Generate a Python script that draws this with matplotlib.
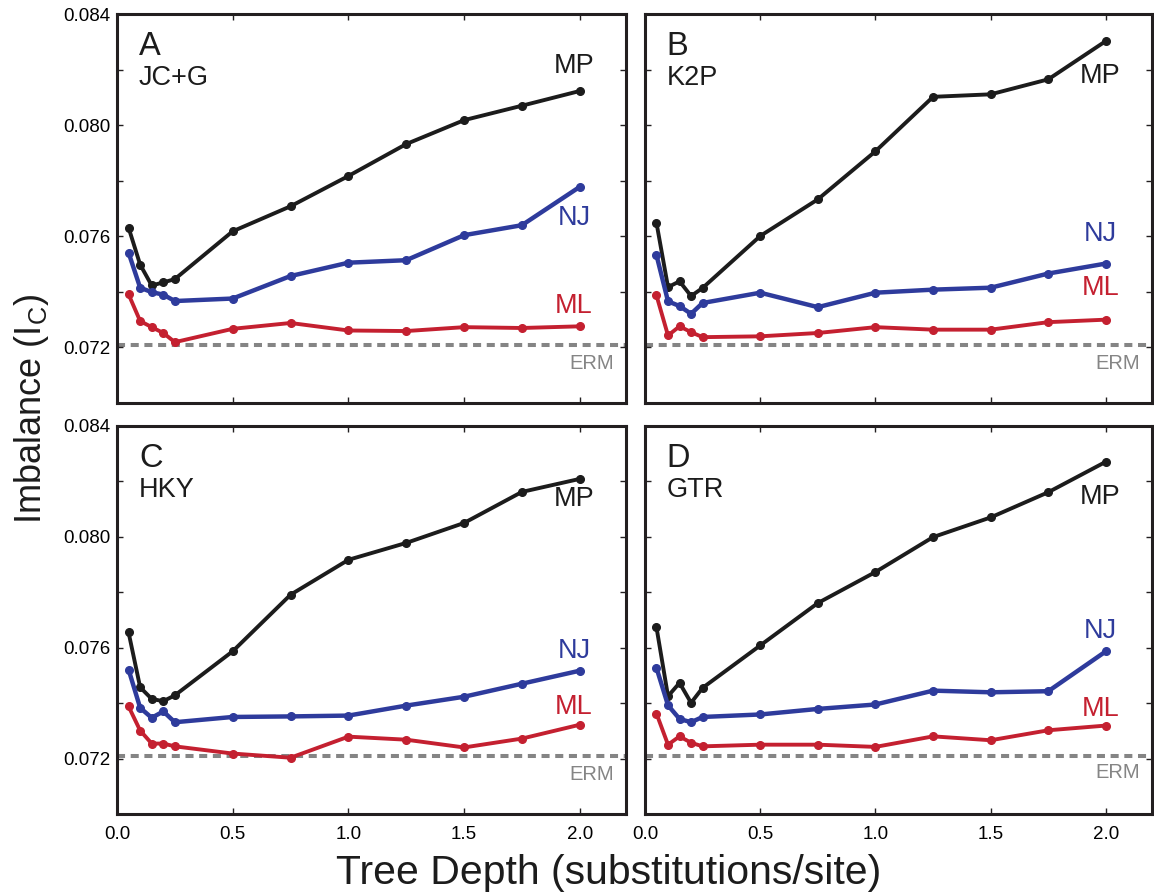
import numpy as np
import matplotlib
matplotlib.use("Agg")
import matplotlib.pyplot as plt
from matplotlib.ticker import MultipleLocator

plt.rcParams['font.family'] = ['Liberation Sans', 'DejaVu Sans']
plt.rcParams['mathtext.fontset'] = 'custom'
plt.rcParams['mathtext.rm'] = 'Liberation Sans'
plt.rcParams['mathtext.it'] = 'Liberation Sans'

# tree depths (substitutions/site)
depth = [0.05, 0.1, 0.15, 0.2, 0.25, 0.5, 0.75, 1.0, 1.25, 1.5, 1.75, 2.0]

# mean imbalance I_C per method and substitution model
mp_jcg = [0.07631, 0.07498, 0.07423, 0.07434, 0.07446, 0.07618, 0.07708, 0.07817, 0.07932, 0.08018, 0.08070, 0.08123]
nj_jcg = [0.07541, 0.07415, 0.07399, 0.07390, 0.07367, 0.07376, 0.07457, 0.07505, 0.07514, 0.07604, 0.07640, 0.07778]
ml_jcg = [0.07391, 0.07295, 0.07273, 0.07252, 0.07219, 0.07267, 0.07288, 0.07261, 0.07259, 0.07273, 0.07270, 0.07276]

mp_k2p = [0.07648, 0.07417, 0.07438, 0.07385, 0.07414, 0.07601, 0.07733, 0.07906, 0.08102, 0.08111, 0.08165, 0.08303]
nj_k2p = [0.07532, 0.07366, 0.07349, 0.07321, 0.07360, 0.07397, 0.07345, 0.07397, 0.07408, 0.07415, 0.07466, 0.07502]
ml_k2p = [0.07387, 0.07243, 0.07276, 0.07255, 0.07237, 0.07240, 0.07252, 0.07273, 0.07264, 0.07264, 0.07291, 0.07300]

mp_hky = [0.07655, 0.07457, 0.07415, 0.07407, 0.07428, 0.07587, 0.07791, 0.07917, 0.07978, 0.08050, 0.08162, 0.08209]
nj_hky = [0.07521, 0.07383, 0.07347, 0.07370, 0.07331, 0.07350, 0.07352, 0.07355, 0.07391, 0.07423, 0.07470, 0.07517]
ml_hky = [0.07388, 0.07301, 0.07254, 0.07254, 0.07244, 0.07218, 0.07203, 0.07279, 0.07268, 0.07240, 0.07272, 0.07322]

mp_gtr = [0.07673, 0.07425, 0.07473, 0.07401, 0.07455, 0.07608, 0.07761, 0.07873, 0.07999, 0.08070, 0.08161, 0.08271]
nj_gtr = [0.07527, 0.07392, 0.07343, 0.07331, 0.07350, 0.07359, 0.07379, 0.07395, 0.07445, 0.07439, 0.07443, 0.07587]
ml_gtr = [0.07362, 0.07250, 0.07280, 0.07257, 0.07244, 0.07250, 0.07250, 0.07242, 0.07280, 0.07266, 0.07302, 0.07319]

erm = 0.0721  # expected under the equal-rates Markov model

panel_letters = ['A', 'B', 'C', 'D']
model_names = ['JC+G', 'K2P', 'HKY', 'GTR']
series = [(mp_jcg, nj_jcg, ml_jcg), (mp_k2p, nj_k2p, ml_k2p),
          (mp_hky, nj_hky, ml_hky), (mp_gtr, nj_gtr, ml_gtr)]

black = '#1c1c1c'
blue = '#2e3b9c'
red = '#c42030'
grey = '#858585'

# where the MP / NJ / ML / ERM tags sit in each panel (data coords)
tag_pos = [
    {'MP': (1.975, 0.08213), 'NJ': (1.975, 0.07665), 'ML': (1.975, 0.07348), 'ERM': (2.05, 0.07142)},
    {'MP': (1.975, 0.08177), 'NJ': (1.975, 0.07610), 'ML': (1.975, 0.07413), 'ERM': (2.05, 0.07141)},
    {'MP': (1.975, 0.08137), 'NJ': (1.975, 0.07589), 'ML': (1.975, 0.07387), 'ERM': (2.05, 0.07142)},
    {'MP': (1.975, 0.08144), 'NJ': (1.975, 0.07661), 'ML': (1.975, 0.07380), 'ERM': (2.05, 0.07150)},
]

fig = plt.figure(figsize=(11.54, 8.93), dpi=100)
rects = [(0.1014, 0.5487, 0.4411, 0.4356), (0.5589, 0.5487, 0.4394, 0.4356),
         (0.1014, 0.0885, 0.4411, 0.4345), (0.5589, 0.0885, 0.4394, 0.4345)]

for i, rect in enumerate(rects):
    ax = fig.add_axes(rect)
    mp, nj, ml = series[i]

    ax.axhline(erm, color=grey, lw=2.9, dashes=(2.0, 1.4), dash_capstyle='butt', zorder=1)
    ax.plot(depth, mp, color=black, lw=2.8, marker='o', ms=5.5, zorder=3)
    ax.plot(depth, nj, color=blue, lw=3.2, marker='o', ms=5.5, zorder=3)
    ax.plot(depth, ml, color=red, lw=2.8, marker='o', ms=5.5, zorder=3)

    ax.set_xlim(0, 2.2)
    ax.set_ylim(0.070, 0.084)
    ax.xaxis.set_major_locator(MultipleLocator(0.5))
    ax.yaxis.set_minor_locator(MultipleLocator(0.002))
    ax.set_yticks([0.072, 0.076, 0.080, 0.084])
    ax.xaxis.set_major_formatter(matplotlib.ticker.FormatStrFormatter('%.1f'))
    ax.yaxis.set_major_formatter(matplotlib.ticker.FormatStrFormatter('%.3f'))

    ax.tick_params(which='both', direction='in', top=True, right=True,
                   length=4, width=1.0, color='#231f20', labelsize=13.5)
    ax.tick_params(axis='x', pad=9)
    ax.tick_params(axis='y', pad=5)
    if i < 2:
        ax.tick_params(axis='x', labelbottom=False)
    if i % 2 == 1:
        ax.tick_params(axis='y', labelleft=False)
    for sp in ax.spines.values():
        sp.set_linewidth(2.2)
        sp.set_color('#231f20')

    ax.text(0.043, 0.895, panel_letters[i], transform=ax.transAxes,
            fontsize=23.5, color=black, va='baseline', ha='left')
    ax.text(0.043, 0.817, model_names[i], transform=ax.transAxes,
            fontsize=19.5, color=black, va='baseline', ha='left')

    tags = tag_pos[i]
    for name, col in [('MP', black), ('NJ', blue), ('ML', red)]:
        x, y = tags[name]
        ax.text(x, y, name, color=col, fontsize=19.5, ha='center', va='center')
    x, y = tags['ERM']
    ax.text(x, y, 'ERM', color=grey, fontsize=14.5, ha='center', va='center')

fig.text(0.527, 0.010, 'Tree Depth (substitutions/site)', fontsize=29.5,
         ha='center', va='baseline', color=black)
fig.text(0.027, 0.542, r'Imbalance (I$_\mathregular{C}$)', fontsize=26,
         rotation=90, ha='center', va='center', color=black)

fig.savefig('out.png', dpi=100)
